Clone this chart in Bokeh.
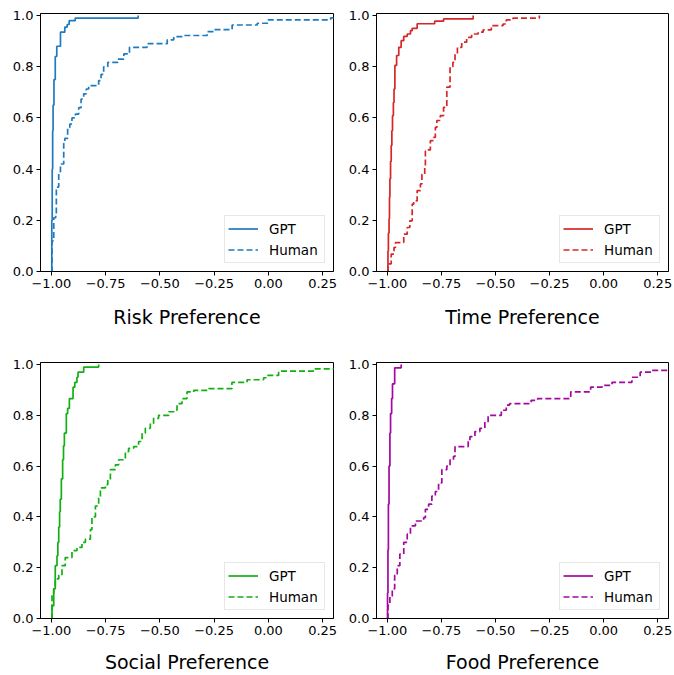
from bokeh.plotting import figure
from bokeh.layouts import gridplot
from bokeh.models import Range1d, FixedTicker, CustomJSTickFormatter
from bokeh.embed import file_html
from bokeh.resources import INLINE

# ---------------- data (ECDF step points) ----------------
titles = ["Risk Preference", "Time Preference", "Social Preference", "Food Preference"]
colors = ["#1f7bbf", "#d62728", "#12b012", "#a4089f"]

risk_gpt_x = [-1.000, -0.998, -0.996, -0.994, -0.992, -0.988, -0.982, -0.975, -0.958,
              -0.938, -0.927, -0.918, -0.890, -0.600]
risk_gpt_y = [0.0, 0.20, 0.40, 0.55, 0.65, 0.75, 0.84, 0.88, 0.935,
              0.955, 0.965, 0.980, 0.990, 1.000]
risk_hum_x = [-1.000, -0.997, -0.989, -0.980, -0.977, -0.966, -0.958, -0.943, -0.938,
              -0.925, -0.915, -0.905, -0.889, -0.874, -0.863, -0.851, -0.839, -0.828,
              -0.782, -0.771, -0.759, -0.740, -0.694, -0.666, -0.640, -0.559, -0.466,
              -0.436, -0.390, -0.282, -0.251, -0.167, -0.051, -0.001, 0.287, 0.600]
risk_hum_y = [0.0, 0.12, 0.21, 0.22, 0.33, 0.39, 0.42, 0.50, 0.52,
              0.563, 0.576, 0.60, 0.615, 0.64, 0.674, 0.694, 0.713, 0.726,
              0.746, 0.77, 0.80, 0.817, 0.83, 0.85, 0.876, 0.89, 0.905,
              0.918, 0.922, 0.937, 0.945, 0.963, 0.97, 0.983, 0.991, 1.0]

time_gpt_x = [-1.000, -0.997, -0.995, -0.992, -0.990, -0.988, -0.985, -0.982, -0.979,
              -0.976, -0.972, -0.969, -0.965, -0.957, -0.947, -0.936, -0.924, -0.908,
              -0.893, -0.885, -0.862, -0.781, -0.740, -0.603]
time_gpt_y = [0.0, 0.08, 0.15, 0.206, 0.29, 0.362, 0.43, 0.492, 0.55,
              0.609, 0.66, 0.713, 0.805, 0.844, 0.876, 0.902, 0.919, 0.928,
              0.941, 0.95, 0.968, 0.978, 0.987, 1.0]
time_hum_x = [-1.000, -0.997, -0.982, -0.969, -0.962, -0.924, -0.908, -0.896, -0.885,
              -0.878, -0.862, -0.847, -0.840, -0.827, -0.824, -0.814, -0.801, -0.786,
              -0.778, -0.771, -0.755, -0.740, -0.725, -0.710, -0.697, -0.687, -0.676,
              -0.656, -0.633, -0.610, -0.580, -0.557, -0.519, -0.465, -0.450, -0.419,
              -0.297]
time_hum_y = [0.0, 0.03, 0.068, 0.094, 0.113, 0.146, 0.172, 0.198, 0.263,
              0.276, 0.316, 0.342, 0.38, 0.407, 0.47, 0.475, 0.511, 0.524,
              0.563, 0.59, 0.609, 0.641, 0.72, 0.80, 0.817, 0.85, 0.876,
              0.896, 0.915, 0.928, 0.935, 0.944, 0.961, 0.967, 0.983, 0.99,
              1.0]

soc_gpt_x = [-1.000, -0.997, -0.989, -0.982, -0.974, -0.970, -0.966, -0.962, -0.959,
             -0.954, -0.948, -0.944, -0.940, -0.931, -0.925, -0.917, -0.900, -0.892,
             -0.882, -0.877, -0.851, -0.782]
soc_gpt_y = [0.0, 0.05, 0.117, 0.208, 0.247, 0.30, 0.36, 0.42, 0.47,
             0.55, 0.625, 0.68, 0.73, 0.807, 0.827, 0.866, 0.911, 0.93,
             0.95, 0.97, 0.99, 1.0]
soc_hum_x = [-1.000, -0.997, -0.989, -0.982, -0.966, -0.951, -0.936, -0.905, -0.882,
             -0.859, -0.843, -0.820, -0.813, -0.797, -0.782, -0.774, -0.751, -0.740,
             -0.728, -0.705, -0.690, -0.659, -0.644, -0.621, -0.598, -0.582, -0.567,
             -0.544, -0.529, -0.506, -0.459, -0.436, -0.421, -0.398, -0.375, -0.344,
             -0.275, -0.168, -0.098, -0.022, -0.007, 0.047, 0.212, 0.600]
soc_hum_y = [0.0, 0.098, 0.117, 0.156, 0.17, 0.208, 0.24, 0.267, 0.28,
             0.30, 0.3125, 0.35, 0.40, 0.443, 0.48, 0.514, 0.527, 0.547,
             0.586, 0.605, 0.625, 0.657, 0.67, 0.677, 0.697, 0.73, 0.749,
             0.768, 0.788, 0.80, 0.814, 0.82, 0.846, 0.866, 0.892, 0.898,
             0.905, 0.93, 0.94, 0.948, 0.957, 0.974, 0.983, 1.0]

food_gpt_x = [-1.000, -0.999, -0.997, -0.995, -0.992, -0.988, -0.985, -0.980, -0.976,
              -0.966, -0.936]
food_gpt_y = [0.0, 0.10, 0.27, 0.45, 0.60, 0.73, 0.807, 0.866, 0.924,
              0.987, 1.0]
food_hum_x = [-1.000, -0.997, -0.988, -0.977, -0.966, -0.954, -0.942, -0.924, -0.908,
              -0.893, -0.870, -0.832, -0.824, -0.809, -0.794, -0.778, -0.763, -0.748,
              -0.725, -0.710, -0.694, -0.687, -0.626, -0.618, -0.595, -0.572, -0.549,
              -0.534, -0.473, -0.450, -0.435, -0.335, -0.305, -0.152, -0.060, -0.007,
              0.039, 0.131, 0.169, 0.222, 0.600]
food_hum_y = [0.0, 0.052, 0.085, 0.117, 0.17, 0.208, 0.254, 0.30, 0.332,
              0.365, 0.384, 0.397, 0.43, 0.45, 0.482, 0.50, 0.534, 0.586,
              0.60, 0.625, 0.638, 0.677, 0.697, 0.716, 0.736, 0.749, 0.775,
              0.80, 0.82, 0.84, 0.846, 0.859, 0.866, 0.892, 0.911, 0.918,
              0.93, 0.95, 0.97, 0.977, 1.0]

gpt_series = [(risk_gpt_x, risk_gpt_y), (time_gpt_x, time_gpt_y),
              (soc_gpt_x, soc_gpt_y), (food_gpt_x, food_gpt_y)]
hum_series = [(risk_hum_x, risk_hum_y), (time_hum_x, time_hum_y),
              (soc_hum_x, soc_hum_y), (food_hum_x, food_hum_y)]

x_ticks = [-1.0, -0.75, -0.5, -0.25, 0.0, 0.25]
y_ticks = [0.0, 0.2, 0.4, 0.6, 0.8, 1.0]

FONT = "DejaVu Sans"

xfmt_code = "return (tick < -1e-9 ? '\u2212' : '') + Math.abs(tick).toFixed(2);"
yfmt_code = "return Math.abs(tick).toFixed(1);"


def make_panel(i):
    left = (i % 2 == 0)
    top = (i < 2)
    if left:
        w, bl, br = 345, 40, 12
    else:
        w, bl, br = 328, 30, 5
    if top:
        h, bt, bb = 348, 13, 77
    else:
        h, bt, bb = 327, 14, 57
    p = figure(width=w, height=h, min_border_left=bl, min_border_right=br,
               min_border_top=bt, min_border_bottom=bb,
               x_range=Range1d(-1.05, 0.30), y_range=Range1d(0.0, 1.008),
               output_backend="svg", toolbar_location=None)
    p.grid.visible = False
    p.outline_line_color = "black"
    p.outline_line_alpha = 1.0
    p.outline_line_width = 1
    p.background_fill_color = "white"
    p.border_fill_color = "white"

    for ax in (p.xaxis[0], p.yaxis[0]):
        ax.axis_line_color = "black"
        ax.major_tick_line_color = "black"
        ax.major_tick_in = 0
        ax.major_tick_out = 4
        ax.minor_tick_line_color = None
        ax.major_label_text_font = FONT
        ax.major_label_text_font_size = "13px"
        ax.major_label_text_color = "black"
        ax.major_label_standoff = 3
    p.xaxis.ticker = FixedTicker(ticks=x_ticks)
    p.yaxis.ticker = FixedTicker(ticks=y_ticks)
    p.xaxis.formatter = CustomJSTickFormatter(code=xfmt_code)
    p.yaxis.formatter = CustomJSTickFormatter(code=yfmt_code)
    p.xaxis.axis_label = titles[i]
    p.xaxis.axis_label_text_font = FONT
    p.xaxis.axis_label_text_font_size = "19px"
    p.xaxis.axis_label_text_font_style = "normal"
    p.xaxis.axis_label_text_color = "black"
    p.xaxis.axis_label_standoff = 15 if top else 13

    gx, gy = gpt_series[i]
    hx, hy = hum_series[i]
    p.step(gx, gy, mode="after", line_color=colors[i], line_width=1.7,
           legend_label="GPT")
    p.step(hx, hy, mode="after", line_color=colors[i], line_width=1.7,
           line_dash="6 3", legend_label="Human")

    lg = p.legend[0]
    lg.location = "bottom_right"
    lg.margin = 8
    lg.padding = 3
    lg.spacing = 2
    lg.glyph_width = 30
    lg.glyph_height = 19
    lg.label_standoff = 11
    lg.label_width = 52
    lg.label_text_font = FONT
    lg.label_text_font_size = "13.5px"
    lg.label_text_color = "black"
    lg.border_line_color = "#d0d0d0"
    lg.border_line_width = 1
    lg.background_fill_color = "white"
    lg.background_fill_alpha = 0.8
    return p


panels = [make_panel(i) for i in range(4)]
grid = gridplot([[panels[0], panels[1]], [panels[2], panels[3]]],
                toolbar_location=None)

open("out.html", "w").write(file_html(grid, INLINE))
